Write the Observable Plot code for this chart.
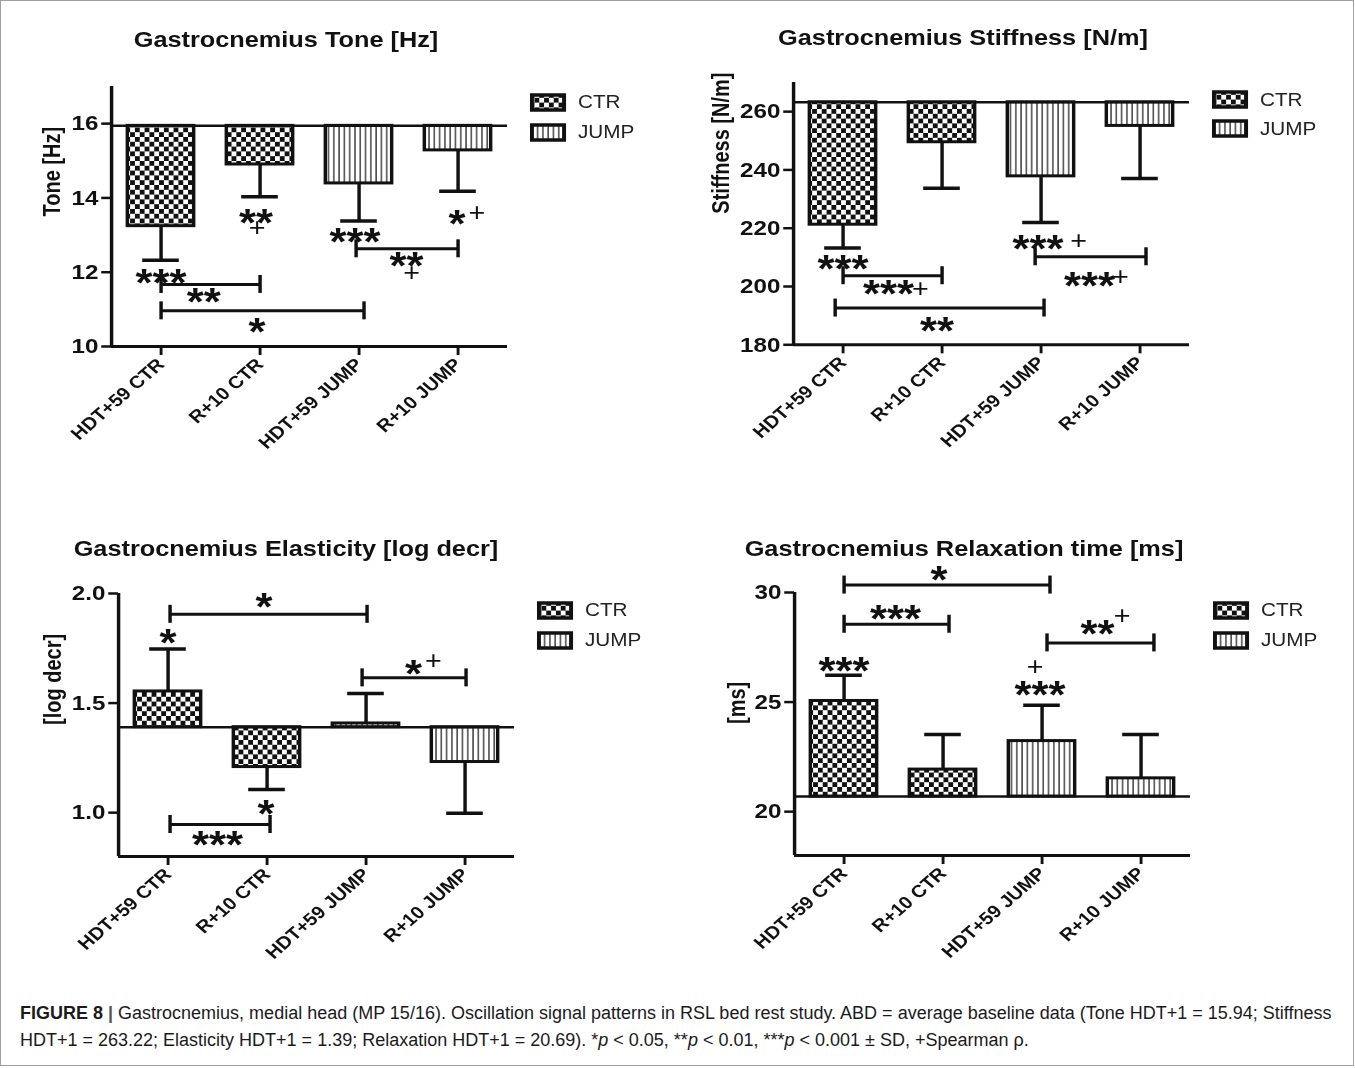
<!DOCTYPE html>
<html><head><meta charset="utf-8">
<script src="https://cdn.jsdelivr.net/npm/d3@7"></script>
<script src="https://cdn.jsdelivr.net/npm/@observablehq/plot@0.6"></script>
<style>
body{margin:0;background:#fff;font-family:"Liberation Sans",Arial,sans-serif;}
#page{position:relative;width:1355px;height:1068px;overflow:hidden;background:#fff;}
#border{position:absolute;left:0;top:0;width:1352px;height:1064px;border:1px solid #a0a0a0;}
.panel{position:absolute;transform-origin:0 0;}
.panel svg.plot{position:absolute;left:0;top:0;}
.title{position:absolute;font-weight:bold;font-size:22px;white-space:nowrap;transform:translate(-50%,-50%);color:#111;}
.legtext{position:absolute;font-size:18px;color:#222;transform:translateY(-50%);white-space:nowrap;}
.legsw{position:absolute;}
#caption{position:absolute;left:20px;top:1000px;font-size:16px;line-height:27px;color:#1a1a1a;white-space:nowrap;}
</style></head>
<body>
<svg width="0" height="0" style="position:absolute">
<defs>
<pattern id="checker" width="8.4" height="9.6" patternUnits="userSpaceOnUse">
<rect width="8.4" height="9.6" fill="#fff"/><rect width="4.2" height="4.8" fill="#111"/><rect x="4.2" y="4.8" width="4.2" height="4.8" fill="#111"/>
</pattern>
<pattern id="stripes" width="4.6" height="10" patternUnits="userSpaceOnUse">
<rect width="4.6" height="10" fill="#fff"/><rect x="1.8" width="1.1" height="10" fill="#222"/>
</pattern>
</defs>
</svg>
<div id="page"><div id="border"></div><div id="caption"></div></div>
<script>
// ---------- data ----------
const categories = ["HDT+59 CTR", "R+10 CTR", "HDT+59 JUMP", "R+10 JUMP"];
const groups = ["CTR", "CTR", "JUMP", "JUMP"];
const legendItems = ["CTR", "JUMP"];

const toneMean = [13.24, 14.90, 14.39, 15.28];
const toneSD = [0.92, 0.87, 1.01, 1.10];
const toneBaseline = 15.94;
const toneTicks = [10, 12, 14, 16];
const toneStars = [
  {text: "***", x: 0, y: 11.94}, {text: "**", x: 0.96, y: 13.55}, {text: "***", x: 1.96, y: 13.06},
  {text: "*", x: 2.99, y: 13.53}, {text: "**", x: 0.43, y: 11.44}, {text: "*", x: 0.97, y: 10.63},
  {text: "**", x: 2.48, y: 12.41}
];
const tonePlus = [{x: 0.97, y: 13.19}, {x: 3.19, y: 13.6}, {x: 2.53, y: 11.98}];
const toneBrackets = [{x1: 0, x2: 1, y: 11.67}, {x1: 0, x2: 2.05, y: 10.96}, {x1: 1.97, x2: 3.0, y: 12.63}];

const stiffMean = [221.2, 249.5, 237.8, 255.1];
const stiffSD = [8.0, 15.8, 15.8, 18.0];
const stiffBaseline = 263.22;
const stiffTicks = [180, 200, 220, 240, 260];
const stiffStars = [
  {text: "***", x: 0, y: 208.9}, {text: "***", x: 0.46, y: 200.3}, {text: "**", x: 0.95, y: 187.7},
  {text: "***", x: 1.97, y: 215.7}, {text: "***", x: 2.49, y: 203.1}
];
const stiffPlus = [{x: 0.78, y: 199.1}, {x: 2.38, y: 215.7}, {x: 2.8, y: 203.1}];
const stiffBrackets = [{x1: 0, x2: 1, y: 203.7}, {x1: -0.08, x2: 2.03, y: 192.6}, {x1: 1.94, x2: 3.06, y: 210.2}];

const elastMean = [1.553, 1.208, 1.407, 1.231];
const elastSD = [0.194, 0.102, 0.137, 0.234];
const elastBaseline = 1.39;
const elastTicks = [1.0, 1.5, 2.0];
const elastStars = [
  {text: "*", x: 0, y: 1.813}, {text: "*", x: 0.97, y: 1.977}, {text: "*", x: 0.99, y: 1.034},
  {text: "***", x: 0.5, y: 0.893}, {text: "*", x: 2.48, y: 1.671}
];
const elastPlus = [{x: 2.68, y: 1.69}];
const elastBrackets = [{x1: 0.02, x2: 2.01, y: 1.905}, {x1: 0.02, x2: 1.03, y: 0.946}, {x1: 1.96, x2: 3.01, y: 1.615}];

const relaxMean = [25.05, 21.92, 23.22, 21.52];
const relaxSD = [1.17, 1.60, 1.63, 2.00];
const relaxBaseline = 20.69;
const relaxTicks = [20, 25, 30];
const relaxStars = [
  {text: "***", x: 0, y: 26.83}, {text: "***", x: 0.52, y: 29.19}, {text: "*", x: 0.96, y: 30.95},
  {text: "***", x: 1.98, y: 25.73}, {text: "**", x: 2.56, y: 28.5}
];
const relaxPlus = [{x: 1.93, y: 26.6}, {x: 2.81, y: 28.92}];
const relaxBrackets = [{x1: 0, x2: 1.06, y: 28.55}, {x1: 0, x2: 2.08, y: 30.34}, {x1: 2.05, x2: 3.13, y: 27.70}];

const titles = ["Gastrocnemius Tone [Hz]", "Gastrocnemius Stiffness [N/m]", "Gastrocnemius Elasticity [log decr]", "Gastrocnemius Relaxation time [ms]"];
const yLabels = ["Tone [Hz]", "Stiffness [N/m]", "[log decr]", "[ms]"];

// ---------- layout ----------
const S = 1.15;
const panels = [
  {mean: toneMean, sd: toneSD, baseline: toneBaseline, ticks: toneTicks, fmt: d3.format("d"), domain: [10, 17],
   stars: toneStars, plus: tonePlus, brackets: toneBrackets, title: titles[0], ylabel: yLabels[0],
   x0: 111, top: 86, bottom: 346, titleX: 286, titleY: 40, ylabOff: 59, legY: [102, 132]},
  {mean: stiffMean, sd: stiffSD, baseline: stiffBaseline, ticks: stiffTicks, fmt: d3.format("d"), domain: [180, 270],
   stars: stiffStars, plus: stiffPlus, brackets: stiffBrackets, title: titles[1], ylabel: yLabels[1],
   x0: 793, top: 81.7, bottom: 344, titleX: 963, titleY: 38, ylabOff: 72, legY: [100, 129]},
  {mean: elastMean, sd: elastSD, baseline: elastBaseline, ticks: elastTicks, fmt: d3.format(".1f"), domain: [0.8, 2.0],
   stars: elastStars, plus: elastPlus, brackets: elastBrackets, title: titles[2], ylabel: yLabels[2],
   x0: 118, top: 593, bottom: 856, titleX: 286, titleY: 549, ylabOff: 65, legY: [610, 640]},
  {mean: relaxMean, sd: relaxSD, baseline: relaxBaseline, ticks: relaxTicks, fmt: d3.format("d"), domain: [18, 30],
   stars: relaxStars, plus: relaxPlus, brackets: relaxBrackets, title: titles[3], ylabel: yLabels[3],
   x0: 794, top: 592, bottom: 855, titleX: 964, titleY: 549, ylabOff: 57, legY: [610, 640]}
];

const page = document.getElementById("page");
const ink = "#111";

function buildPanel(cfg) {
  const mL = 80, mR = 12, mT = 45, mB = 130;
  const frameW = 396 / S, frameH = cfg.bottom - cfg.top;
  const width = mL + frameW + mR, height = mT + frameH + mB;
  const left = cfg.x0 - S * mL, top = cfg.top - mT;
  const rows = categories.map((c, i) => {
    const dir = cfg.mean[i] >= cfg.baseline ? 1 : -1;
    return {i, cat: c, group: groups[i], mean: cfg.mean[i], end: cfg.mean[i] + dir * cfg.sd[i]};
  });
  const ends = cfg.brackets.flatMap(b => [{x: b.x1, y: b.y}, {x: b.x2, y: b.y}]);
  const hw = 0.335, cw = 0.185;
  const plot = Plot.plot({
    width, height, marginLeft: mL, marginRight: mR, marginTop: mT, marginBottom: mB,
    x: {domain: [-0.5, 3.5]},
    y: {domain: cfg.domain},
    style: {overflow: "visible", fontFamily: '"Liberation Sans", Arial, sans-serif', fontWeight: "bold", color: ink, background: "transparent"},
    marks: [
      Plot.rect(rows.filter(d => d.group === "CTR"), {x1: d => d.i - hw, x2: d => d.i + hw, y1: () => cfg.baseline, y2: "mean", fill: "url(#checker)", stroke: ink, strokeWidth: 3}),
      Plot.rect(rows.filter(d => d.group === "JUMP"), {x1: d => d.i - hw, x2: d => d.i + hw, y1: () => cfg.baseline, y2: "mean", fill: "url(#stripes)", stroke: ink, strokeWidth: 3}),
      Plot.ruleY([cfg.baseline], {stroke: ink, strokeWidth: 2.5}),
      Plot.ruleX(rows, {x: "i", y1: "mean", y2: "end", stroke: ink, strokeWidth: 3}),
      Plot.ruleY(rows, {y: "end", x1: d => d.i - cw, x2: d => d.i + cw, stroke: ink, strokeWidth: 3.5}),
      Plot.ruleY(cfg.brackets, {y: "y", x1: "x1", x2: "x2", stroke: ink, strokeWidth: 3}),
      Plot.ruleX(ends, {x: "x", y1: "y", y2: "y", insetTop: -9, insetBottom: -9, stroke: ink, strokeWidth: 3}),
      Plot.ruleX([-0.5], {stroke: ink, strokeWidth: 3}),
      Plot.ruleY([cfg.domain[0]], {stroke: ink, strokeWidth: 3}),
      Plot.axisY({ticks: cfg.ticks, tickFormat: cfg.fmt, tickSize: 8.5, tickPadding: 3, fontSize: 21, strokeWidth: 2.5, label: null}),
      Plot.axisX({ticks: [0, 1, 2, 3], tickFormat: i => categories[i], tickRotate: -45, tickSize: 9, tickPadding: 6, fontSize: 17.5, strokeWidth: 2.5, label: null}),
      Plot.text(cfg.stars, {x: "x", y: "y", text: "text", fontSize: 38, dy: 9.5, fill: ink}),
      Plot.text(cfg.plus, {x: "x", y: "y", text: () => "+", fontSize: 25, fontWeight: "normal", fill: ink}),
      Plot.text([cfg.ylabel], {frameAnchor: "left", text: d => d, rotate: -90, dx: -cfg.ylabOff / S, fontSize: 20, fill: ink})
    ]
  });
  plot.classList.add("plot");
  const wrap = document.createElement("div");
  wrap.className = "panel";
  wrap.style.left = left + "px";
  wrap.style.top = top + "px";
  wrap.style.width = width + "px";
  wrap.style.height = height + "px";
  wrap.style.transform = `scaleX(${S})`;
  wrap.appendChild(plot);
  const t = document.createElement("div");
  t.className = "title";
  t.textContent = cfg.title;
  t.style.left = ((cfg.titleX - left) / S) + "px";
  t.style.top = (cfg.titleY - top) + "px";
  wrap.appendChild(t);
  legendItems.forEach((name, k) => {
    const sw = document.createElementNS("http://www.w3.org/2000/svg", "svg");
    sw.setAttribute("class", "legsw");
    sw.setAttribute("width", 32); sw.setAttribute("height", 19);
    sw.style.left = (mL + 419 / S) + "px";
    sw.style.top = (cfg.legY[k] - top - 9.5) + "px";
    sw.innerHTML = `<rect x="2" y="2" width="28" height="15" fill="${name === "CTR" ? "url(#checker)" : "url(#stripes)"}" stroke="${ink}" stroke-width="3.5"/>`;
    wrap.appendChild(sw);
    const lt = document.createElement("div");
    lt.className = "legtext";
    lt.textContent = name;
    lt.style.left = (mL + 467 / S) + "px";
    lt.style.top = (cfg.legY[k] - top) + "px";
    wrap.appendChild(lt);
  });
  page.appendChild(wrap);
}
panels.forEach(buildPanel);

const cap = document.getElementById("caption");
cap.innerHTML = `<div id="l1"><b>FIGURE 8</b> <b style="color:#555">|</b> Gastrocnemius, medial head (MP 15/16). Oscillation signal patterns in RSL bed rest study. ABD = average baseline data (Tone HDT+1 = 15.94; Stiffness</div>` +
  `<div>HDT+1 = 263.22; Elasticity HDT+1 = 1.39; Relaxation HDT+1 = 20.69). *<i>p</i> &lt; 0.05, **<i>p</i> &lt; 0.01, ***<i>p</i> &lt; 0.001 ± SD, +Spearman ρ.</div>`;
const l1 = document.getElementById("l1");
const w1 = l1.scrollWidth;
const fs = 16 * 1320 / w1;
cap.style.fontSize = Math.min(18, fs) + "px";
</script>
</body></html>
